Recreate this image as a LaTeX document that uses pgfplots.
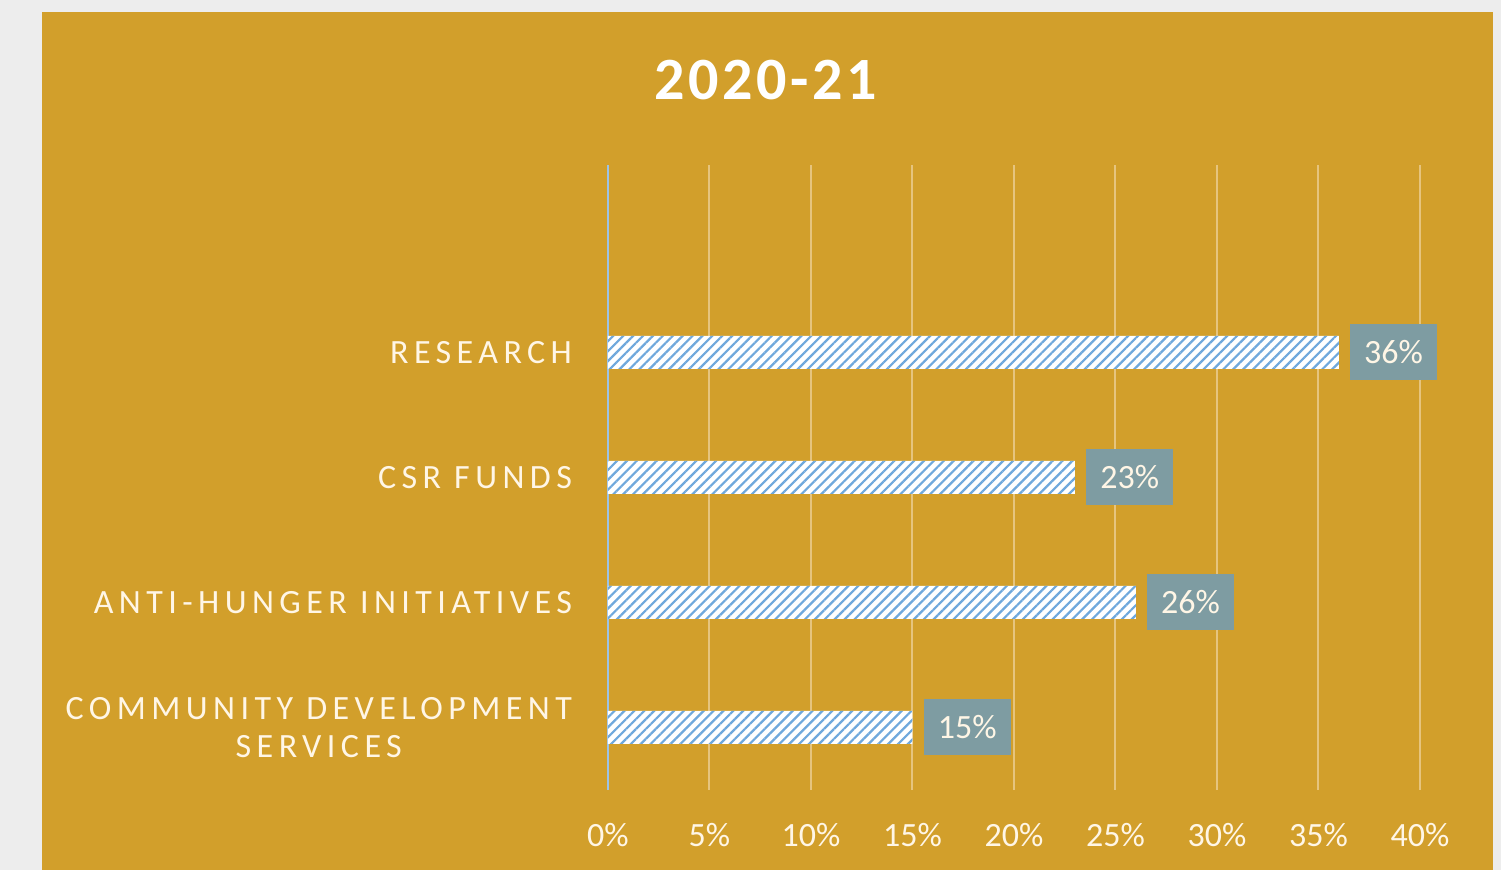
\documentclass[border=0pt]{standalone}
\usepackage{pgfplots}
\pgfplotsset{compat=1.18}
\usepackage{fontspec}
\setmainfont{Carlito}
\newfontfamily\spaced[LetterSpace=16]{Carlito}
\newfontfamily\titlefont[LetterSpace=6]{Carlito}
\usetikzlibrary{patterns.meta}
\definecolor{pagegray}{HTML}{EDEDED}
\definecolor{gold}{HTML}{D29F2B}
\definecolor{gridcream}{HTML}{E6C47E}
\definecolor{zeroblue}{HTML}{9DC3E6}
\definecolor{hatchblue}{HTML}{6FA8DC}
\definecolor{tagbox}{HTML}{7E9CA2}
\definecolor{cream}{HTML}{FFF6E6}

\begin{document}
\begin{tikzpicture}
% page and chart area
\fill[pagegray] (-304pt,-40pt) rectangle (446.5pt,395pt);
\fill[gold] (-283pt,-40pt) rectangle (442.5pt,389pt);
\begin{axis}[
  at={(0,0)}, anchor=south west,
  scale only axis, width=406pt, height=312.5pt,
  xbar, bar width=16.5pt,
  xmin=0, xmax=40, ymin=-0.5, ymax=4.5,
  xtick={0,5,...,40},
  xticklabel={\pgfmathprintnumber{\tick}\%},
  /pgf/number format/assume math mode=true,
  xticklabel style={font=\fontsize{17}{20}\selectfont, text=cream, yshift=-13pt},
  ytick={0,1,2,3},
  yticklabels={{COMMUNITY DEVELOPMENT\\SERVICES},{ANTI-HUNGER INITIATIVES},{CSR FUNDS},{RESEARCH}},
  yticklabel style={align=center, font=\spaced\fontsize{17}{19}\selectfont, text=cream, xshift=-14.5pt},
  major tick length=0pt,
  xmajorgrids, major grid style={gridcream, line width=1pt},
  axis y line*=left, axis x line*=bottom,
  x axis line style={draw=none},
  y axis line style={draw=zeroblue, line width=0.8pt},
  title={\titlefont\bfseries 2020-21},
  title style={at={(axis description cs:0.1946,1.117)}, anchor=center, text=white,
    font=\fontsize{30}{36}\selectfont},
  point meta=x,
  nodes near coords={\pgfmathprintnumber{\pgfplotspointmeta}\%},
  nodes near coords style={anchor=west, xshift=5.5pt, fill=tagbox, text=cream,
    minimum height=28pt, inner xsep=7pt, font=\fontsize{17}{20}\selectfont},
]
\addplot[draw=none, fill=white,
  postaction={pattern={Lines[angle=45,distance=3.5pt,line width=1.1pt]}, pattern color=hatchblue}]
  coordinates {(15,0) (26,1) (23,2) (36,3)};
\end{axis}
\end{tikzpicture}
\end{document}
